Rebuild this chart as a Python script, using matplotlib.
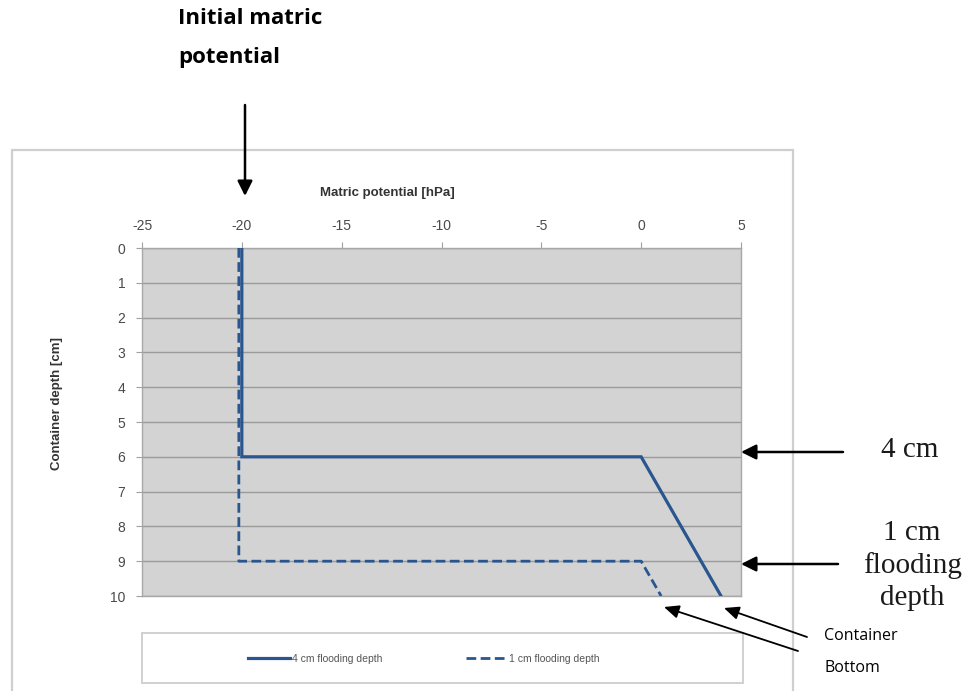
import matplotlib
matplotlib.use("Agg")
import matplotlib.pyplot as plt
from matplotlib.patches import Rectangle

plt.rcParams["axes.unicode_minus"] = False
plt.rcParams["font.family"] = ["Liberation Sans", "DejaVu Sans"]

# matric potential profiles [hPa] against container depth [cm]
potential_4cm = [-20, -20, 0, 4]
depth_4cm = [0, 6, 6, 10]
potential_1cm = [-20.15, -20.15, 0, 1]
depth_1cm = [0, 9, 9, 10]

x_ticks = [-25, -20, -15, -10, -5, 0, 5]
y_ticks = list(range(0, 11))

line_color = "#2a5690"
W, H = 964, 691

fig = plt.figure(figsize=(W / 100, H / 100), dpi=100)
fig.patch.set_facecolor("white")

def fx(px):
    return px / W

def fy(py):
    return 1 - py / H

# outer chart frame
fig.patches.append(Rectangle((fx(12), fy(700)), fx(793) - fx(12), fy(150) - fy(700),
                             transform=fig.transFigure, fill=False,
                             edgecolor="#cfcfcf", linewidth=1.6, zorder=0))

ax = fig.add_axes([fx(142), fy(596), fx(741) - fx(142), fy(248) - fy(596)])
ax.set_facecolor("#d3d3d3")

ax.plot(potential_4cm, depth_4cm, color=line_color, lw=2.3,
        solid_joinstyle="miter", label="4 cm flooding depth", zorder=3)
ax.plot(potential_1cm, depth_1cm, color=line_color, lw=2.0,
        linestyle=(0, (3.5, 1.6)), label="1 cm flooding depth", zorder=3)

ax.set_xlim(-25, 5)
ax.set_ylim(10, 0)
ax.set_xticks(x_ticks)
ax.set_yticks(y_ticks)
ax.xaxis.tick_top()
ax.tick_params(axis="both", colors="#a0a0a0", labelcolor="#4a4a4a",
               labelsize=10, length=4, width=0.8)
ax.tick_params(axis="y", pad=8)
ax.tick_params(axis="x", pad=7)
ax.grid(axis="y", color="#9a9a9a", linewidth=1.0)
ax.set_axisbelow(True)
for side, sp in ax.spines.items():
    sp.set_color("#a8a8a8")
    sp.set_linewidth(1.0)

# axis titles placed by hand
fig.text(fx(387), fy(193), "Matric potential [hPa]", fontsize=9.5, fontweight="bold",
         color="#333333", ha="center", va="center")
fig.text(fx(57), fy(403), "Container depth [cm]", fontsize=9.5, fontweight="bold",
         color="#333333", ha="center", va="center", rotation=90)

# legend box under the plot
fig.patches.append(Rectangle((fx(142), fy(683)), fx(743) - fx(142), fy(633) - fy(683),
                             transform=fig.transFigure, fill=True, facecolor="white",
                             edgecolor="#d0d0d0", linewidth=1.4, zorder=1))
leg = fig.legend(loc="center", bbox_to_anchor=(fx(424), fy(659)), ncol=2,
                 frameon=False, fontsize=7.5, handlelength=4.0, handletextpad=0.2,
                 columnspacing=8)
for t in leg.get_texts():
    t.set_color("#555555")

# annotations
fig.text(fx(178), fy(18), "Initial matric", fontsize=16, fontweight="bold",
         family="Open Sans", va="center", ha="left")
fig.text(fx(178), fy(57), "potential", fontsize=16, fontweight="bold",
         family="Open Sans", va="center", ha="left")

arrow = dict(arrowstyle="-|>,head_length=0.9,head_width=0.45", color="black",
             lw=1.8, shrinkA=0, shrinkB=0)
thin_arrow = dict(arrowstyle="-|>,head_length=0.9,head_width=0.4", color="black",
                  lw=1.3, shrinkA=0, shrinkB=0)

fig.add_artist(plt.Annotation("", xy=(fx(245), fy(196)), xytext=(fx(245), fy(105)),
                              xycoords="figure fraction", arrowprops=arrow))
fig.add_artist(plt.Annotation("", xy=(fx(741), fy(452)), xytext=(fx(843), fy(452)),
                              xycoords="figure fraction", arrowprops=arrow))
fig.add_artist(plt.Annotation("", xy=(fx(741), fy(564)), xytext=(fx(838), fy(564)),
                              xycoords="figure fraction", arrowprops=arrow))
fig.add_artist(plt.Annotation("", xy=(fx(724), fy(608)), xytext=(fx(807), fy(637)),
                              xycoords="figure fraction", arrowprops=thin_arrow))
fig.add_artist(plt.Annotation("", xy=(fx(664), fy(607)), xytext=(fx(798), fy(651)),
                              xycoords="figure fraction", arrowprops=thin_arrow))

serif = dict(family="Liberation Serif", fontsize=21, color="#1a1a1a",
             va="center", ha="center")
fig.text(fx(910), fy(450), "4 cm", **serif)
fig.text(fx(912), fy(533), "1 cm", **serif)
fig.text(fx(912), fy(566), "flooding", **serif)
fig.text(fx(912), fy(598), "depth", **serif)

fig.text(fx(824), fy(636), "Container", family="Open Sans", fontsize=11.5,
         va="center", ha="left")
fig.text(fx(824), fy(668), "Bottom", family="Open Sans", fontsize=11.5,
         va="center", ha="left")

fig.savefig("out.png", dpi=100, facecolor="white")
